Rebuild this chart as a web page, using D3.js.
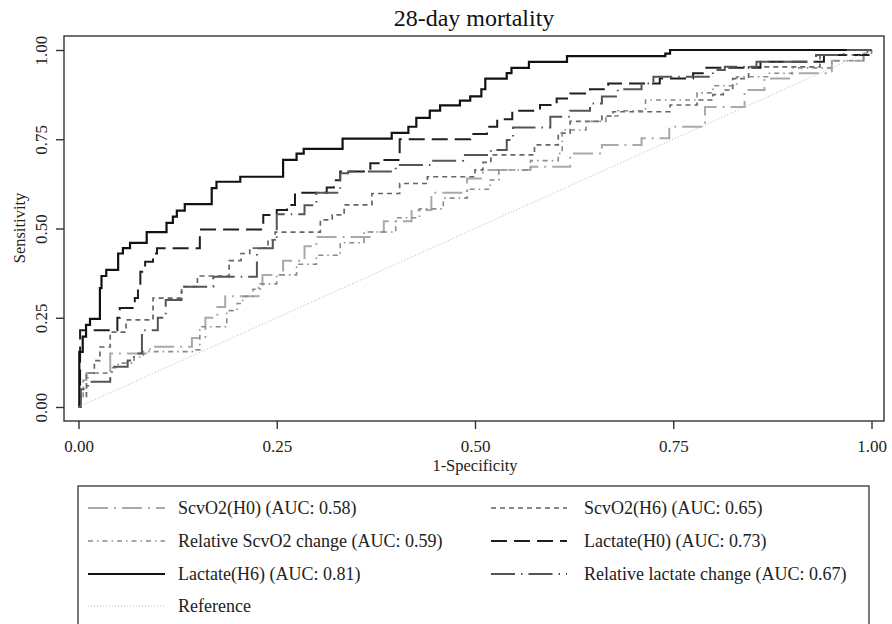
<!DOCTYPE html>
<html>
<head>
<meta charset="utf-8">
<script src="https://cdn.jsdelivr.net/npm/d3@7"></script>
<style>
  body { margin: 0; background: #fff; }
  svg { display: block; font-family: "Liberation Serif", "Times New Roman", serif; }
</style>
</head>
<body>
<svg id="chart" width="892" height="624"></svg>
<script>
// ROC points: [1-specificity, sensitivity] where each step rises
const scvo2H0 = [[0,0],[0.002,0.05],[0.01,0.095],[0.04,0.15],[0.09,0.169],[0.143,0.193],[0.16,0.25],[0.175,0.28],[0.185,0.31],[0.227,0.342],[0.232,0.37],[0.258,0.41],[0.285,0.45],[0.3,0.476],[0.37,0.49],[0.385,0.52],[0.42,0.552],[0.445,0.6],[0.49,0.64],[0.51,0.664],[0.57,0.673],[0.62,0.71],[0.66,0.734],[0.71,0.753],[0.745,0.785],[0.79,0.84],[0.84,0.888],[0.865,0.92],[0.9,0.935],[0.95,0.97],[0.99,0.99],[1,1]];
const scvo2H6 = [[0,0],[0.002,0.03],[0.01,0.095],[0.02,0.13],[0.027,0.168],[0.04,0.21],[0.06,0.244],[0.094,0.305],[0.13,0.337],[0.15,0.367],[0.19,0.41],[0.205,0.43],[0.216,0.445],[0.239,0.468],[0.248,0.49],[0.305,0.524],[0.32,0.538],[0.335,0.566],[0.37,0.598],[0.405,0.626],[0.44,0.645],[0.5,0.664],[0.51,0.685],[0.52,0.706],[0.575,0.734],[0.605,0.767],[0.62,0.8],[0.66,0.815],[0.674,0.827],[0.746,0.846],[0.78,0.86],[0.8,0.875],[0.813,0.888],[0.825,0.92],[0.845,0.953],[0.935,0.986],[0.995,1],[1,1]];
const relScvo2 = [[0,0],[0.002,0.02],[0.006,0.075],[0.012,0.095],[0.04,0.11],[0.05,0.123],[0.07,0.14],[0.082,0.155],[0.145,0.16],[0.153,0.225],[0.187,0.27],[0.2,0.29],[0.207,0.31],[0.22,0.33],[0.229,0.345],[0.25,0.37],[0.275,0.4],[0.3,0.425],[0.33,0.46],[0.36,0.49],[0.4,0.53],[0.43,0.555],[0.46,0.585],[0.49,0.61],[0.519,0.636],[0.53,0.664],[0.57,0.69],[0.605,0.71],[0.61,0.776],[0.64,0.8],[0.665,0.815],[0.68,0.83],[0.715,0.86],[0.78,0.88],[0.8,0.9],[0.83,0.925],[0.87,0.935],[0.9,0.95],[0.95,0.97],[0.99,0.99],[1,1]];
const lactateH0 = [[0,0],[0.002,0.215],[0.049,0.25],[0.052,0.277],[0.071,0.305],[0.075,0.34],[0.078,0.379],[0.084,0.407],[0.094,0.43],[0.099,0.445],[0.153,0.497],[0.233,0.538],[0.25,0.552],[0.263,0.566],[0.273,0.6],[0.313,0.615],[0.322,0.635],[0.33,0.66],[0.368,0.683],[0.384,0.692],[0.405,0.75],[0.494,0.765],[0.515,0.785],[0.528,0.806],[0.547,0.83],[0.582,0.846],[0.603,0.864],[0.62,0.878],[0.645,0.89],[0.668,0.906],[0.733,0.92],[0.775,0.935],[0.79,0.95],[0.86,0.967],[0.94,0.986],[0.998,1],[1,1]];
const lactateH6 = [[0,0],[0.001,0.154],[0.0053,0.197],[0.0095,0.23],[0.0145,0.247],[0.027,0.333],[0.029,0.367],[0.035,0.384],[0.05,0.43],[0.056,0.445],[0.065,0.46],[0.086,0.49],[0.111,0.516],[0.119,0.533],[0.124,0.55],[0.134,0.568],[0.168,0.613],[0.174,0.631],[0.204,0.645],[0.258,0.692],[0.275,0.71],[0.284,0.723],[0.333,0.752],[0.395,0.768],[0.416,0.785],[0.426,0.81],[0.443,0.83],[0.456,0.845],[0.481,0.858],[0.494,0.87],[0.508,0.89],[0.513,0.92],[0.54,0.935],[0.546,0.95],[0.568,0.967],[0.616,0.983],[0.74,0.99],[0.746,1],[1,1]];
const relLactate = [[0,0],[0.003,0.05],[0.012,0.071],[0.04,0.095],[0.042,0.113],[0.062,0.13],[0.07,0.15],[0.08,0.215],[0.1,0.25],[0.11,0.3],[0.13,0.337],[0.17,0.365],[0.225,0.445],[0.245,0.47],[0.25,0.54],[0.285,0.565],[0.3,0.6],[0.33,0.655],[0.34,0.66],[0.4,0.678],[0.445,0.69],[0.485,0.706],[0.52,0.72],[0.54,0.748],[0.548,0.783],[0.595,0.813],[0.62,0.83],[0.645,0.85],[0.66,0.87],[0.68,0.89],[0.71,0.906],[0.725,0.925],[0.8,0.944],[0.815,0.953],[0.855,0.967],[0.93,0.986],[0.965,1],[1,1]];
const reference = [[0,0],[1,1]];

const seriesNames = ['ScvO2(H0)', 'ScvO2(H6)', 'Relative ScvO2 change', 'Lactate(H0)', 'Lactate(H6)', 'Relative lactate change', 'Reference'];
const aucValues = [0.58, 0.65, 0.59, 0.73, 0.81, 0.67, null];
const axisTicks = [0, 0.25, 0.5, 0.75, 1];

const seriesData = [scvo2H0, scvo2H6, relScvo2, lactateH0, lactateH6, relLactate, reference];
// line looks, same order as seriesNames
const looks = [
  { color: '#a9a9a9', width: 2,   dash: '20,6,2,6' },
  { color: '#666666', width: 1.7, dash: '5,4' },
  { color: '#8a8a8a', width: 1.6, dash: '5,4,1.5,4' },
  { color: '#1e1e1e', width: 2,   dash: '16,7' },
  { color: '#111111', width: 2.2, dash: null },
  { color: '#555555', width: 2,   dash: '24,6,1.5,6' },
  { color: '#b8b8b8', width: 1,   dash: '1,2' }
];

const svg = d3.select('#chart');

const x = d3.scaleLinear().domain([0, 1]).range([78.5, 871.5]);
const y = d3.scaleLinear().domain([0, 1]).range([407, 50]);

const frame = { left: 64, top: 36, right: 884, bottom: 421 };

// title
svg.append('text')
  .attr('x', 474).attr('y', 26)
  .attr('text-anchor', 'middle')
  .style('font-size', '24px')
  .attr('fill', '#111')
  .text('28-day mortality');

// curves
const stepLine = d3.line()
  .x(d => x(d[0]))
  .y(d => y(d[1]));

const plot = svg.append('g').attr('class', 'curves');
seriesData.forEach(function(data, i) {
  plot.append('path')
    .datum(data)
    .attr('d', stepLine.curve(i === 6 ? d3.curveLinear : d3.curveStepAfter)(data))
    .attr('fill', 'none')
    .attr('stroke', looks[i].color)
    .attr('stroke-width', looks[i].width)
    .attr('stroke-dasharray', looks[i].dash);
});

// plot frame
svg.append('rect')
  .attr('x', frame.left).attr('y', frame.top)
  .attr('width', frame.right - frame.left)
  .attr('height', frame.bottom - frame.top)
  .attr('fill', 'none')
  .attr('stroke', '#333')
  .attr('stroke-width', 1.4);

// x axis
const xAxis = svg.append('g')
  .attr('transform', 'translate(0,' + frame.bottom + ')')
  .call(d3.axisBottom(x).tickValues(axisTicks).tickFormat(d3.format('.2f')).tickSize(8));
xAxis.select('.domain').remove();
xAxis.selectAll('line').attr('stroke', '#333').attr('stroke-width', 1.4);
xAxis.selectAll('text')
  .attr('y', 31).attr('dy', 0)
  .attr('fill', '#222')
  .style('font-family', '"Liberation Serif", serif')
  .style('font-size', '17px');

// y axis
const yAxis = svg.append('g')
  .attr('transform', 'translate(' + frame.left + ',0)')
  .call(d3.axisLeft(y).tickValues(axisTicks).tickFormat(d3.format('.2f')).tickSize(8));
yAxis.select('.domain').remove();
yAxis.selectAll('line').attr('stroke', '#333').attr('stroke-width', 1.4);
yAxis.selectAll('text')
  .attr('transform', 'rotate(-90)')
  .attr('text-anchor', 'middle')
  .attr('x', 0).attr('y', -17).attr('dy', 0)
  .attr('fill', '#222')
  .style('font-family', '"Liberation Serif", serif')
  .style('font-size', '17px');

// axis titles
svg.append('text')
  .attr('x', 475).attr('y', 471)
  .attr('text-anchor', 'middle')
  .style('font-size', '16.5px')
  .attr('fill', '#222')
  .text('1-Specificity');

svg.append('text')
  .attr('transform', 'translate(25,228) rotate(-90)')
  .attr('text-anchor', 'middle')
  .style('font-size', '16.5px')
  .attr('fill', '#222')
  .text('Sensitivity');

// legend
svg.append('rect')
  .attr('x', 78).attr('y', 486)
  .attr('width', 791).attr('height', 200)
  .attr('fill', 'none')
  .attr('stroke', '#222')
  .attr('stroke-width', 1.2);

const legendRows = [508, 541, 574, 606];
const legendCols = [{ x1: 88, x2: 165, tx: 178 }, { x1: 491, x2: 567, tx: 584 }];

const legend = svg.append('g').attr('class', 'legend');
seriesNames.forEach(function(name, i) {
  const col = legendCols[i % 2];
  const rowY = legendRows[Math.floor(i / 2)];
  legend.append('line')
    .attr('x1', col.x1).attr('x2', col.x2)
    .attr('y1', rowY).attr('y2', rowY)
    .attr('stroke', looks[i].color)
    .attr('stroke-width', looks[i].width)
    .attr('stroke-dasharray', looks[i].dash);
  legend.append('text')
    .attr('x', col.tx).attr('y', rowY + 6)
    .style('font-size', '18px')
    .attr('fill', '#222')
    .text(aucValues[i] === null ? name : name + ' (AUC: ' + aucValues[i].toFixed(2) + ')');
});
</script>
</body>
</html>
